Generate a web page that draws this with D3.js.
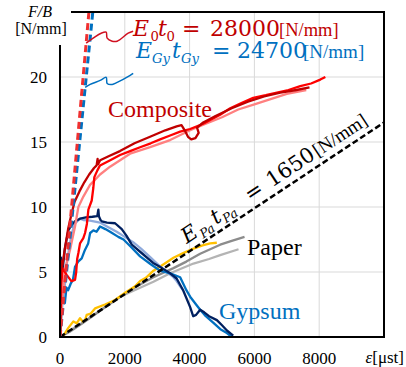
<!DOCTYPE html>
<html><head><meta charset="utf-8">
<script src="https://cdn.jsdelivr.net/npm/d3@7"></script>
<style>body{margin:0;background:#fff}svg{display:block}</style>
</head><body>
<svg id="chart" width="406" height="367"></svg>
<script>
// Load–strain curves, F/B [N/mm] vs strain ε [μst]; each series is [strain, load]
const xTicks = [0, 2000, 4000, 6000, 8000];
const yTicks = [0, 5, 10, 15, 20];
const xTickLabels = ["0", "2000", "4000", "6000", "8000"];
const yTickLabels = ["0", "5", "10", "15", "20"];

// Composite specimens
const compDark = [[0,0],[15,3.0],[25,4.6],[20,5.9],[40,5.2],[80,5.6],[150,6.8],[250,8.3],[350,9.4],[450,10.4],[600,11.2],[750,11.9],[900,12.5],[1050,13.0],[1130,13.2],[1160,13.7],[1175,13.3],[1240,13.6],[1500,13.9],[1850,14.3],[2300,14.9],[2780,15.4],[3250,15.9],[3600,16.2],[3750,16.3],[3850,15.9],[3950,15.4],[4050,15.2],[4180,15.3],[4280,15.7],[4230,16.1],[4420,16.5],[4800,17.0],[5300,17.6],[5800,18.1],[6300,18.5],[6800,18.8],[7300,19.0],[7700,19.2]];
const compRed = [[0,0],[40,4.0],[80,5.3],[200,4.8],[350,4.3],[464,4.4],[500,5.0],[530,6.0],[570,6.5],[618,7.2],[720,7.6],[773,8.0],[830,8.7],[876,9.8],[979,10.5],[1030,11.5],[1060,12.3],[1150,12.8],[1236,13.2],[1550,13.6],[1854,14.0],[2163,14.3],[2472,14.6],[2800,14.9],[3090,15.2],[3400,15.5],[3708,15.8],[4017,16.0],[4420,16.4],[4944,17.1],[5253,17.6],[5600,18.0],[5964,18.4],[6350,18.6],[6696,18.8],[7050,19.0],[7416,19.3],[7750,19.5],[8034,19.8],[8190,20.0]];
const compLight = [[0,0],[60,2.5],[155,5.2],[309,6.7],[464,8.5],[567,10.0],[721,10.8],[927,11.7],[1236,12.5],[1545,13.1],[1854,13.6],[2163,14.1],[2781,14.6],[3399,15.15],[4017,15.9],[4500,16.4],[5000,16.9],[5500,17.5],[6000,17.9],[6500,18.3],[7000,18.7],[7600,19.0]];

// Gypsum specimens
const gypNavy = [[0,0],[10,3.0],[20,5.8],[30,6.1],[50,5.0],[90,5.4],[150,6.8],[257,8.2],[350,8.6],[464,8.9],[618,9.1],[800,9.2],[1000,9.25],[1150,9.3],[1184,9.8],[1200,9.3],[1250,9.0],[1290,8.9],[1450,8.8],[1700,8.75],[1906,8.3],[2050,7.8],[2215,7.1],[2500,6.5],[2874,5.7],[3150,5.3],[3400,4.9],[3600,4.5],[3800,3.6],[3900,3.0],[4017,2.3],[4110,1.6],[4200,1.7],[4326,2.1],[4450,1.9],[4600,1.6],[4842,1.3],[5000,0.9],[5151,0.5],[5346,0.1]];
const gypBlue = [[0,0],[20,2.0],[50,3.5],[100,3.0],[150,2.6],[200,3.8],[250,3.6],[330,4.1],[400,4.4],[464,5.4],[560,5.8],[670,6.05],[770,6.7],[870,7.2],[930,8.0],[1030,8.2],[1130,8.1],[1236,8.5],[1400,8.3],[1545,8.1],[1800,7.7],[1960,7.5],[2200,6.9],[2472,6.2],[2800,5.6],[3090,5.1],[3400,4.9],[3708,4.6],[3900,3.6],[4017,3.1],[4200,2.5],[4326,2.1],[4500,1.6],[4728,1.1],[4950,0.6],[5151,0.3],[5306,0.0]];
const gypLight = [[0,0],[30,1.0],[80,2.8],[150,4.0],[200,5.5],[280,6.8],[350,7.8],[450,8.7],[618,9.1],[720,9.0],[927,8.95],[1236,8.8],[1450,8.5],[1750,8.1],[2000,7.7],[2256,7.3],[2500,6.8],[2800,6.1],[3100,5.4],[3300,5.0],[3500,4.6],[3600,4.3],[3708,3.9],[3800,3.6]];

// Paper specimens
const papGold = [[0,0],[80,0.05],[155,0.3],[257,0.7],[412,1.2],[515,1.05],[618,1.45],[700,1.2],[773,1.3],[824,1.7],[950,1.8],[1081,2.2],[1390,2.5],[1700,2.85],[2008,3.4],[2318,3.9],[2472,4.3],[2650,4.55],[2884,5.1],[3200,5.6],[3502,6.1],[3800,6.45],[4120,6.8],[4400,7.05],[4635,7.2],[4840,7.25]];
const papGray = [[0,0],[300,0.4],[600,0.9],[1000,1.6],[1400,2.3],[1854,3.1],[2300,3.8],[2884,4.6],[3502,5.3],[3900,5.8],[4326,6.4],[4944,7.1],[5300,7.4],[5695,7.7]];
const papLightGray = [[0,0],[300,0.5],[700,1.1],[1100,1.8],[1500,2.5],[1854,3.1],[2300,3.6],[2884,4.25],[3399,4.9],[4120,5.65],[4600,6.0],[4944,6.3],[5510,6.75]];

// Stiffness lines F/B = E·t·ε  (N/mm, ε in μst)
const stiffComposite = 28000;
const stiffGypsum = 24700;
const stiffPaper = 1650;

const svg = d3.select("#chart");
const W = 406, H = 367;
const m = {left: 60, right: 22, top: 12, bottom: 30};
const x = d3.scaleLinear().domain([0, 10000]).range([m.left, W - m.right]);
const y = d3.scaleLinear().domain([0, 25]).range([H - m.bottom, m.top]);

const serif = "Liberation Serif, Times New Roman, serif";
const mathFont = "DejaVu Serif, serif";

svg.append("defs").append("clipPath").attr("id", "plotClip")
  .append("rect").attr("x", x(0)).attr("y", y(25))
  .attr("width", x(10000) - x(0)).attr("height", y(0) - y(25));

// grid
const grid = svg.append("g");
grid.selectAll(".gx").data(xTicks.slice(1)).join("line")
  .attr("x1", d => x(d)).attr("x2", d => x(d))
  .attr("y1", y(0)).attr("y2", y(25))
  .attr("stroke", "#d9d9d9").attr("stroke-width", 1);
grid.selectAll(".gy").data(yTicks.slice(1)).join("line")
  .attr("x1", x(0)).attr("x2", x(10000))
  .attr("y1", d => y(d)).attr("y2", d => y(d))
  .attr("stroke", "#d9d9d9").attr("stroke-width", 1);

const plot = svg.append("g").attr("clip-path", "url(#plotClip)");
const line = d3.line().x(d => x(d[0])).y(d => y(d[1]));

const series = [
  [papLightGray, "#b4b4b4"], [papGray, "#8c8c8c"], [papGold, "#ffc000"],
  [gypLight, "#8faadc"], [gypBlue, "#0070c0"], [gypNavy, "#002060"],
  [compLight, "#ff8080"], [compRed, "#ff0000"], [compDark, "#c00000"]
];
series.forEach(([data, color]) => {
  plot.append("path").datum(data).attr("d", line)
    .attr("fill", "none").attr("stroke", color)
    .attr("stroke-width", 2.3).attr("stroke-linejoin", "round");
});

// stiffness lines
function stiffLine(k, eMax) {
  return [[0, 0], [eMax, k * eMax * 1e-6]];
}
plot.append("path").datum(stiffLine(stiffPaper, 10000)).attr("d", line)
  .attr("fill", "none").attr("stroke", "#000").attr("stroke-width", 2.5)
  .attr("stroke-dasharray", "6,3");
plot.append("path").datum(stiffLine(stiffGypsum, 1100)).attr("d", line)
  .attr("fill", "none").attr("stroke", "#0070c0").attr("stroke-width", 3)
  .attr("stroke-dasharray", "7,4");
plot.append("path").datum(stiffLine(stiffComposite, 1000)).attr("d", line)
  .attr("fill", "none").attr("stroke", "#f03030").attr("stroke-width", 3)
  .attr("stroke-dasharray", "7,4");

// frame
svg.append("rect").attr("x", x(0)).attr("y", y(25))
  .attr("width", x(10000) - x(0)).attr("height", y(0) - y(25))
  .attr("fill", "none").attr("stroke", "#000").attr("stroke-width", 2);

// tick labels
svg.append("g").selectAll("text").data(xTicks).join("text")
  .attr("x", d => x(d)).attr("y", H - 3)
  .attr("text-anchor", "middle").attr("font-family", serif).attr("font-size", 17)
  .text((d, i) => xTickLabels[i]);
svg.append("g").selectAll("text").data(yTicks).join("text")
  .attr("x", 47).attr("y", d => y(d) + 6)
  .attr("text-anchor", "end").attr("font-family", serif).attr("font-size", 17)
  .text((d, i) => yTickLabels[i]);

// axis titles
svg.append("rect").attr("x", 0).attr("y", 0).attr("width", 71).attr("height", 45).attr("fill", "#fff");
svg.append("text").attr("x", 40).attr("y", 17).attr("text-anchor", "middle")
  .attr("font-family", serif).attr("font-size", 16).attr("font-style", "italic").text("F/B");
svg.append("text").attr("x", 41).attr("y", 34).attr("text-anchor", "middle")
  .attr("font-family", serif).attr("font-size", 16).text("[N/mm]");
const xt = svg.append("text").attr("x", 404).attr("y", 363).attr("text-anchor", "end")
  .attr("font-family", serif).attr("font-size", 17);
xt.append("tspan").attr("font-style", "italic").text("ε");
xt.append("tspan").text("[μst]");

// math-style label: parts are [text, kind, offset] with kind "i" italic, "s" italic subscript,
// "n" subscript digit, "r" roman, "u" unit in text face
function mathText(g, parts, color, size, unitSize) {
  const t = g.append("text").attr("fill", color).attr("font-family", mathFont).attr("font-size", size);
  const subSize = size * 0.6, shift = size * 0.22;
  parts.forEach(([s, kind, dx]) => {
    const isSub = kind === "s" || kind === "n";
    const sp = t.append("tspan").attr("x", dx).attr("y", isSub ? shift : 0).text(s);
    if (isSub) sp.attr("font-size", subSize);
    if (kind === "i" || kind === "s") sp.attr("font-style", "italic");
    if (kind === "u") sp.attr("font-family", serif).attr("font-size", unitSize);
  });
  return t;
}

const red = "#c00000", blue = "#0070c0";
mathText(svg.append("g").attr("transform", "translate(133,36)"),
  [["E","i",0],["0","n",17.5],["t","i",25],["0","n",33.5],["=","r",49],["28000","r",77],["[N/mm]","u",146]], red, 22, 18.5);
mathText(svg.append("g").attr("transform", "translate(136,58)"),
  [["E","i",0],["Gy","s",16],["t","i",36],["Gy","s",45],["=","r",76],["24700","r",101],["[N/mm]","u",167]], blue, 22, 19);

// leaders from stiffness lines to their labels
const leader = d3.line().curve(d3.curveCatmullRom);
function leaderPath(k, F, offsets, color) {
  const x0 = x(F / (k * 1e-6)), y0 = y(F);
  svg.append("path").attr("d", leader(offsets.map(([dx, dy]) => [x0 + dx, y0 + dy])))
    .attr("fill", "none").attr("stroke", color).attr("stroke-width", 1.5);
}
leaderPath(stiffComposite, 22.6, [[0,0],[7,-5],[15,-10],[20,-11],[21,-5],[26,-2],[31,-2],[42,-10],[47,-12]], "#d01020");
leaderPath(stiffGypsum, 19.2, [[0,0],[5,-3],[15,-7],[21,-10],[22,-4],[27,-3],[32,-5],[45,-12],[48,-14]], blue);

// paper stiffness label, along its line
const ang = Math.atan2(y(stiffPaper * 1e-2) - y(0), x(10000) - x(0)) * 180 / Math.PI;
const e0 = 3915;
mathText(svg.append("g").attr("transform", `translate(${x(e0)},${y(stiffPaper * e0 * 1e-6) - 9}) rotate(${ang})`),
  [["E","i",0],["Pa","s",16.5],["t","i",35],["Pa","s",44],["=","r",76],["1650","r",102],["[N/mm]","u",157]], "#000", 21, 19);

// group names
svg.append("text").attr("x", 108).attr("y", 117).attr("fill", red)
  .attr("font-family", serif).attr("font-size", 24).text("Composite");
svg.append("text").attr("x", 247).attr("y", 255).attr("fill", "#000")
  .attr("font-family", serif).attr("font-size", 24).text("Paper");
svg.append("text").attr("x", 219).attr("y", 319).attr("fill", blue)
  .attr("font-family", serif).attr("font-size", 24).text("Gypsum");
</script>
</body></html>
